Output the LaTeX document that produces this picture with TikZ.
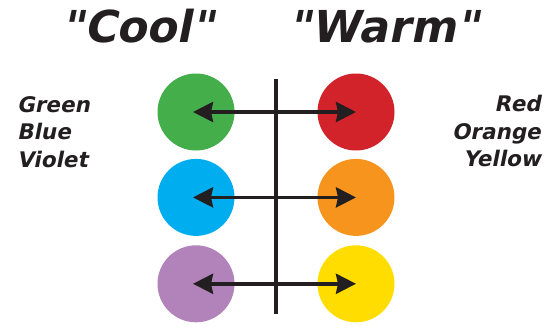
\documentclass[tikz,border=0pt]{standalone}
\usepackage{fontspec}
\setmainfont{DejaVu Sans}[Ligatures=TeXOff,
    BoldItalicFont={DejaVu Sans Bold}, BoldItalicFeatures={FakeSlant=0.2}]
\usetikzlibrary{positioning,arrows.meta}

\definecolor{ink}{HTML}{231F20}
\definecolor{cgreen}{HTML}{44AE4A}
\definecolor{cblue}{HTML}{00AEEF}
\definecolor{cviolet}{HTML}{B283BA}
\definecolor{cred}{HTML}{D2232A}
\definecolor{corange}{HTML}{F7941D}
\definecolor{cyellow}{HTML}{FFDD00}

\begin{document}
\begin{tikzpicture}[x=1pt,y=-1pt,
    dot/.style={circle, minimum size=77pt, inner sep=0pt},
    title/.style={font=\fontsize{44}{44}\selectfont\bfseries\itshape, text=ink, inner sep=0pt},
    lbl/.style={font=\fontsize{21.5}{27.5}\selectfont\bfseries\itshape, text=ink, inner sep=0pt},
    divider/.style={draw=ink, line width=4pt},
    pair/.style={arrows={Stealth[length=20pt,width=20pt,inset=2pt]-Stealth[length=20pt,width=20pt,inset=2pt]},
        draw=ink, line width=3.5pt, shorten <=-3pt}
]
    \useasboundingbox (0,0) rectangle (547,332);

    \node[title, anchor=base] (cool) at (138,42) {"Cool"};
    \node[title, anchor=base] (warm) at (384,42) {"Warm"};

    \node[dot, fill=cgreen] (green) at (196,112) {};
    \node[dot, fill=cblue, below=8pt of green] (blue) {};
    \node[dot, fill=cviolet, below=9pt of blue] (violet) {};

    \node[dot, fill=cred] (red) at (356,112) {};
    \node[dot, fill=corange, below=8pt of red] (orange) {};
    \node[dot, fill=cyellow, below=9pt of orange] (yellow) {};

    \node[lbl, align=left, anchor=north west] (coollist) at (17,96) {Green\\Blue\\Violet};
    \node[lbl, align=right, anchor=north east] (warmlist) at (541,95) {Red\\Orange\\Yellow};

    \coordinate (divtop) at (276,79);
    \coordinate (divbot) at (276,314);
    \draw[divider] (divtop) -- (divbot);

    \draw[pair] (green.center) -- (red.center);
    \draw[pair] (blue.center) -- (orange.center);
    \draw[pair] (violet.center) -- (yellow.center);
\end{tikzpicture}
\end{document}
